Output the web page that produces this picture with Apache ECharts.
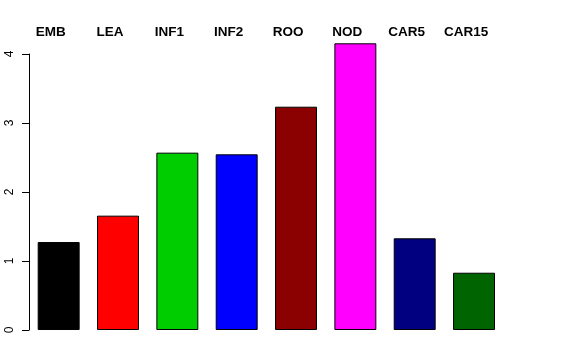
<!DOCTYPE html>
<html>
<head>
<meta charset="utf-8">
<script src="https://cdn.jsdelivr.net/npm/echarts@6/dist/echarts.min.js"></script>
<style>html,body{margin:0;padding:0;background:#fff}#c{width:576px;height:360px}</style>
</head>
<body>
<div id="c"></div>
<script>
const categories = ["EMB","LEA","INF1","INF2","ROO","NOD","CAR5","CAR15"];
const values = [1.275, 1.657, 2.570, 2.546, 3.236, 4.155, 1.329, 0.830];
const barColors = ["#000000","#FF0000","#00CD00","#0000FF","#8B0000","#FF00FF","#000080","#006400"];
const yTicks = [0, 1, 2, 3, 4];

const chart = echarts.init(document.getElementById('c'), null, {renderer:'canvas'});
chart.setOption({
  animation: false,
  backgroundColor: '#ffffff',
  textStyle: {fontFamily: 'Liberation Sans, Arial, Helvetica, sans-serif'},
  grid: {left: 29, right: 72.3, top: 54, bottom: 30, containLabel: false},
  xAxis: {
    type: 'category',
    position: 'top',
    data: categories,
    axisLine: {show: false},
    axisTick: {show: false},
    axisLabel: {
      color: '#000', fontSize: 13.5, fontWeight: 'bold',
      fontFamily: 'Liberation Sans, Arial, sans-serif',
      margin: 15, padding: [0, 16, 0, 0], interval: 0
    },
    splitLine: {show: false}
  },
  yAxis: {
    type: 'value',
    min: yTicks[0], max: yTicks[yTicks.length-1], interval: 1,
    axisLine: {show: true, lineStyle: {color: '#000', width: 1}},
    axisTick: {show: true, length: 7, inside: false, lineStyle: {color: '#000'}},
    axisLabel: {color: '#000', fontSize: 12, rotate: 90, margin: 13,
      fontFamily: 'Liberation Sans, Arial, sans-serif'},
    splitLine: {show: false}
  },
  series: [{
    type: 'bar',
    clip: false,
    barCategoryGap: '29.3%',
    data: values.map((v, i) => ({value: v, itemStyle: {color: barColors[i]}})),
    itemStyle: {borderColor: '#000', borderWidth: 1}
  }]
});
</script>
</body>
</html>
